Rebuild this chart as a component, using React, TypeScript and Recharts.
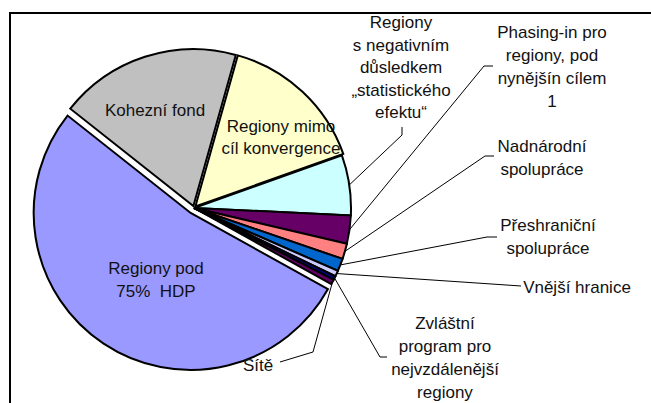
import { PieChart, Pie, Cell } from "recharts"

const RADIAN = Math.PI / 180
const CX = 194
const CY = 208
const RADIUS = 157
const START_ANGLE = -29

const sliceNames = [
    "Regiony pod 75% HDP",
    "Kohezní fond",
    "Regiony mimo cíl konvergence",
    "Regiony s negativním důsledkem „statistického efektu“",
    "Phasing-in pro regiony, pod nynějšín cílem 1",
    "Nadnárodní spolupráce",
    "Přeshraniční spolupráce",
    "Vnější hranice",
    "Zvláštní program pro nejvzdálenější regiony",
    "Sítě",
]
const sliceValues = [52.6, 18.7, 15.2, 6.2, 2.9, 1.6, 1.3, 0.6, 0.4, 0.5]
const sliceColors = ["#9999FF", "#C0C0C0", "#FFFFCC", "#CCFFFF", "#660066", "#FF8080", "#0066CC", "#CCCCFF", "#000080", "#660066"]
const labelLines = [
    ["Regiony pod", "75%  HDP"],
    ["Kohezní fond"],
    ["Regiony mimo", "cíl konvergence"],
    ["Regiony", "s negativním", "důsledkem", "„statistického", "efektu“"],
    ["Phasing-in pro", "regiony, pod", "nynějšín cílem", "1"],
    ["Nadnárodní", "spolupráce"],
    ["Přeshraniční", "spolupráce"],
    ["Vnější hranice"],
    ["Zvláštní", "program pro", "nejvzdálenější", "regiony"],
    ["Sítě"],
]

// layout only: label centre / first line, line gap, leader elbow points
const explode = [6, 2, 2, 0, 0, 0, 0, 0, 0, 0]
const labelLayout: { x: number; y: number; gap: number; leader: number[][] | null }[] = [
    { x: 156, y: 268, gap: 23, leader: null },
    { x: 155, y: 110, gap: 23, leader: null },
    { x: 281, y: 126, gap: 22, leader: null },
    { x: 401, y: 22, gap: 22.6, leader: [[402, 127], [402, 135]] },
    { x: 552, y: 32, gap: 23, leader: [[493, 66], [484, 66]] },
    { x: 542, y: 146, gap: 23, leader: [[494, 156], [485, 156]] },
    { x: 548, y: 225, gap: 23, leader: [[497, 237], [487, 237]] },
    { x: 577, y: 287, gap: 23, leader: [[521, 286]] },
    { x: 445, y: 323, gap: 23, leader: [[387, 357], [380, 357]] },
    { x: 258, y: 365, gap: 23, leader: [[280, 362], [313, 352]] },
]

const data = sliceNames.map((name, i) => ({ name, value: sliceValues[i] }))
const total = sliceValues.reduce((a, b) => a + b, 0)

function midOf(i: number) {
    const before = sliceValues.slice(0, i).reduce((a, b) => a + b, 0)
    return START_ANGLE - ((before + sliceValues[i] / 2) / total) * 360
}

function renderLabel(props: any) {
    const { cx, cy, midAngle, outerRadius, index } = props
    const box = labelLayout[index]
    const lines = labelLines[index]
    let leader = null
    if (box.leader) {
        const ax = cx + outerRadius * Math.cos(-midAngle * RADIAN)
        const ay = cy + outerRadius * Math.sin(-midAngle * RADIAN)
        const pts = [...box.leader, [ax, ay]].map((p) => p.join(",")).join(" ")
        leader = <polyline points={pts} fill="none" stroke="#000" strokeWidth={1} />
    }
    return (
        <g key={"lbl" + index}>
            {leader}
            <text
                textAnchor="middle"
                dominantBaseline="central"
                fontFamily="'Liberation Sans', Arial, sans-serif"
                fontSize={17}
                fill="#111"
                style={{ whiteSpace: "pre" }}
            >
                {lines.map((l, k) => (
                    <tspan key={k} x={box.x} y={box.y + k * box.gap}>{l}</tspan>
                ))}
            </text>
        </g>
    )
}

export default function App() {
    return (
        <div style={{ position: "absolute", left: 0, top: 0, width: 651, height: 403, overflow: "hidden", background: "#fff" }}>
            <div style={{ position: "absolute", left: 9, top: 12, width: 800, height: 600, border: "2px solid #000", overflow: "hidden" }}>
                <div style={{ position: "absolute", left: -11, top: -14 }}>
                    <PieChart width={651} height={403} margin={{ top: 0, right: 0, bottom: 0, left: 0 }}>
                        {sliceValues.map((_, i) =>
                            explode[i] > 0 ? (
                                <Pie
                                    key={"ex" + i}
                                    data={data}
                                    dataKey="value"
                                    cx={CX + explode[i] * Math.cos(-midOf(i) * RADIAN)}
                                    cy={CY + explode[i] * Math.sin(-midOf(i) * RADIAN)}
                                    outerRadius={RADIUS}
                                    startAngle={START_ANGLE}
                                    endAngle={START_ANGLE - 360}
                                    isAnimationActive={false}
                                    labelLine={false}
                                >
                                    {data.map((_, j) => (
                                        <Cell
                                            key={j}
                                            fill={j === i ? sliceColors[j] : "none"}
                                            stroke={j === i ? "#000" : "none"}
                                            strokeWidth={2}
                                        />
                                    ))}
                                </Pie>
                            ) : null
                        )}
                        <Pie
                            data={data}
                            dataKey="value"
                            cx={CX}
                            cy={CY}
                            outerRadius={RADIUS}
                            startAngle={START_ANGLE}
                            endAngle={START_ANGLE - 360}
                            isAnimationActive={false}
                            labelLine={false}
                            label={renderLabel}
                        >
                            {data.map((_, j) => (
                                <Cell
                                    key={j}
                                    fill={explode[j] > 0 ? "none" : sliceColors[j]}
                                    stroke={explode[j] > 0 ? "none" : "#000"}
                                    strokeWidth={2}
                                />
                            ))}
                        </Pie>
                    </PieChart>
                </div>
            </div>
        </div>
    )
}
